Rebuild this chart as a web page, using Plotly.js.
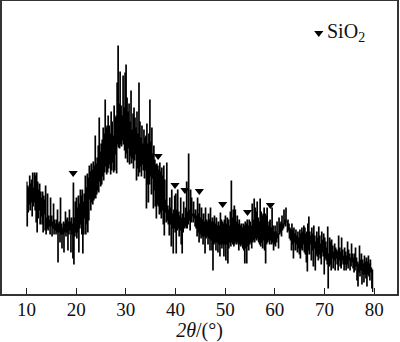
<!DOCTYPE html>
<html><head><meta charset="utf-8">
<script src="https://cdn.plot.ly/plotly-3.0.1.min.js"></script>
<style>html,body{margin:0;padding:0;background:#fff}</style></head>
<body><div id="chart" style="width:400px;height:342px"></div>
<script>
const startAngle = 10, stepAngle = 0.1;
const band10to20 = [112,68,108,82,106,90,118,84,110,92,114,78,121,88,106,92,121,84,118,72,121,62,112,76,104,84,110,70,102,78,96,70,102,62,98,80,94,64,108,60,76,66,100,64,78,68,74,60,96,68,78,58,72,66,90,60,74,64,70,60,74,62,84,32,70,62,72,52,96,60,70,46,66,60,72,42,70,62,82,58,74,62,76,44,72,60,84,64,72,42,76,60,70,36,111,30,76,58,92,62];
const band20to30 = [96,56,86,62,98,42,90,66,104,70,98,60,104,41,92,60,100,76,118,60,106,70,120,62,116,74,128,95,122,84,130,92,124,90,132,94,128,96,158,96,130,100,136,104,148,102,176,113,142,108,150,110,154,118,166,114,160,122,194,128,166,120,168,122,178,126,168,130,160,120,182,124,172,132,158,122,188,124,176,140,178,121,211,150,248,147,190,146,222,150,188,148,178,154,218,150,186,144,221,136];
const band30to40 = [229,141,196,132,182,146,190,130,172,138,203,131,164,136,180,126,186,134,176,140,166,114,182,126,160,118,211,122,172,128,156,118,168,130,150,124,164,116,156,124,158,86,170,110,150,92,160,110,194,118,152,100,166,116,140,86,148,104,134,88,129,76,130,90,128,88,124,80,131,82,122,76,126,84,118,70,128,59,114,82,94,72,131,74,88,70,84,59,96,70,86,48,104,66,80,41,84,66,98,62];
const band40to50 = [100,41,84,64,104,66,82,58,78,64,96,50,76,41,80,62,92,66,76,68,86,66,112,66,82,70,140,74,84,64,104,72,96,80,78,72,92,76,80,68,84,66,78,58,96,62,80,52,90,60,76,56,86,58,74,50,80,58,72,41,86,56,74,58,72,50,80,56,74,44,86,54,72,44,76,24,72,50,78,52,70,44,76,52,68,42,72,50,68,38,81,50,74,46,72,50,70,38,74,50];
const band50to60 = [78,34,70,50,76,31,74,46,68,52,82,48,113,52,76,50,84,48,88,50,84,52,72,50,78,52,70,44,74,50,68,48,70,50,66,46,70,44,68,31,72,46,70,31,74,48,68,44,74,50,72,52,68,46,90,52,74,54,95,52,86,56,82,54,92,56,76,52,72,50,95,48,82,52,78,46,80,54,86,44,80,31,78,50,86,52,68,54,72,50,74,54,66,50,86,52,68,44,62,50];
const band60to70 = [68,48,62,52,72,56,60,46,76,60,70,62,72,58,78,64,70,66,84,70,74,68,86,72,72,62,74,64,70,56,66,54,64,44,70,50,64,36,66,52,60,44,64,50,58,42,62,46,56,40,64,36,60,46,66,44,62,50,68,42,66,40,60,32,62,23,70,44,77,40,62,50,58,34,66,44,60,28,68,46,58,24,52,40,62,38,56,34,67,40,58,36,50,30,62,42,54,38,60,20];
const band70to80 = [56,36,52,34,46,30,67,6,40,28,56,30,52,24,54,36,48,26,42,34,50,24,46,36,44,30,42,24,58,34,46,28,42,26,56,34,44,30,38,24,46,30,42,24,38,30,52,26,44,34,40,24,36,28,50,32,40,26,36,22,40,24,46,28,36,14,32,8,30,22,48,18,34,24,40,10,34,20,30,12,38,20,32,16,36,8,32,20,38,18,30,14,34,22,26,6,24,2];
const peakAngles = [19.4,36.5,39.9,41.9,44.8,49.5,54.5,59.1];
const peakHeights = [121,138,109,104,103,90,82,89];
const keyAngle = [68.85];
const keyHeight = [261];
const keyLabel = 'SiO<sub>2</sub>';
const xTickValues = [10,20,30,40,50,60,70,80];

const intensity = [].concat(band10to20,band20to30,band30to40,band40to50,band50to60,band60to70,band70to80);
const angles = intensity.map((_, i) => startAngle + i * stepAngle);
const serif = '"Liberation Serif","Times New Roman",serif';
const triangle = {symbol:'triangle-down',size:8,color:'#000'};

Plotly.newPlot('chart',[
 {type:'scatter',mode:'lines',x:angles,y:intensity,showlegend:false,hoverinfo:'skip',
  line:{color:'#000',width:1.2,shape:'hv'}},
 {type:'scatter',mode:'markers',x:peakAngles,y:peakHeights,showlegend:false,marker:triangle},
 {type:'scatter',mode:'markers',x:keyAngle,y:keyHeight,showlegend:false,marker:triangle}
],{
 width:400,height:342,paper_bgcolor:'#fff',plot_bgcolor:'#fff',
 margin:{l:2,r:3,t:1,b:48},
 font:{family:serif,size:19,color:'#111'},
 showlegend:false,
 annotations:[{x:70.3,y:262,xref:'x',yref:'y',xanchor:'left',yanchor:'middle',showarrow:false,text:keyLabel,
  font:{family:serif,size:20,color:'#111'},borderpad:0}],
 xaxis:{range:[5.07,84.6],tickvals:xTickValues,ticks:'inside',ticklen:6,tickwidth:1.2,tickcolor:'#222',
  showgrid:false,zeroline:false,showline:true,mirror:true,linewidth:2,linecolor:'#333',ticklabelstandoff:-3,
  tickfont:{family:serif,size:19,color:'#111'},
  title:{text:'<i>2θ</i>/(°)',font:{family:serif,size:20,color:'#111'},standoff:0}},
 yaxis:{range:[0,293],showticklabels:false,ticks:'',showgrid:false,zeroline:false,showline:true,mirror:true,linewidth:2,linecolor:'#333'}
},{displayModeBar:false,responsive:false});
</script></body></html>
